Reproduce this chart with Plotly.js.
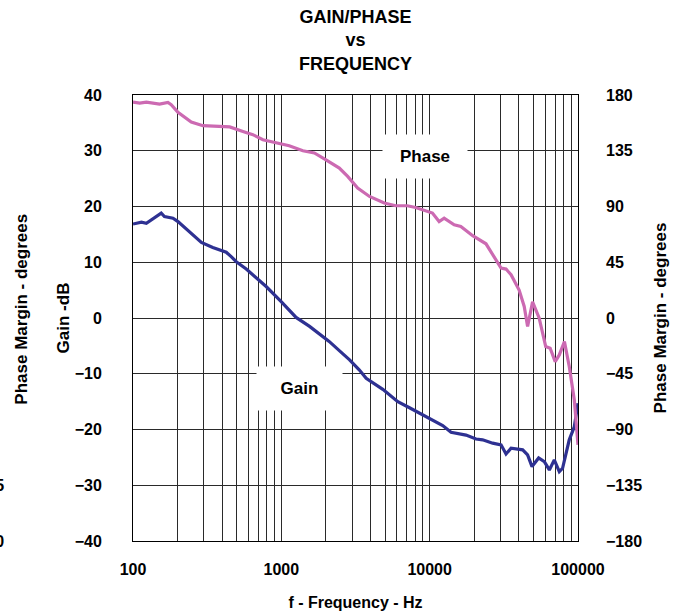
<!DOCTYPE html>
<html>
<head>
<meta charset="utf-8">
<script src="https://cdn.plot.ly/plotly-3.0.1.min.js"></script>
<style>html,body{margin:0;padding:0;background:#fff;}#chart{width:677px;height:615px;}</style>
</head>
<body>
<div id="chart"></div>
<script>
// Gain curve (Hz, dB)
const gainFreq = [100,114,123,136,155,163,186,201,234,289,345,425,459,497,580,678,790,998,1257,1550,2100,2590,2885,3350,3730,4830,6100,7310,9470,12240,13930,17580,20540,22750,26590,30290,32720,35370,42370,45730,48980,54290,59300,64100,69200,74800,78700,87300,94400,100000];
const gainDb = [16.85,17.2,17.0,17.75,18.8,18.2,17.9,17.3,15.65,13.55,12.65,11.8,11.0,10.1,8.8,7.3,5.65,2.95,0.1,-1.5,-4.2,-6.4,-7.5,-9.3,-10.8,-12.8,-15.0,-16.1,-17.7,-19.3,-20.5,-21.0,-21.7,-21.85,-22.45,-22.75,-24.4,-23.35,-23.65,-24.55,-26.65,-25.1,-25.75,-27.25,-25.45,-27.55,-26.95,-21.85,-19.5,-15.3];

// Phase curve (Hz, degrees)
const phaseFreq = [100,111,123,151,172,181,201,247,296,374,449,551,643,751,923,1130,1397,1670,2000,2460,2800,3270,3930,4940,5900,7070,8040,10440,11580,12520,14630,16220,19500,23970,30290,32720,35370,40100,43390,45730,49400,54700,60600,64900,70200,74800,81000,87300,94400,100000];
const phaseDeg = [174.3,173.5,174.3,172.7,174,172.2,166,158.2,155.2,154.6,154.2,150.6,148,143.9,141.2,139,135,133.2,127.7,121,114.3,104.9,98.1,92.8,90.6,90.6,89.2,84.7,77.9,80.6,75.2,73.9,66.4,59.9,40.3,39.5,34.9,22.6,9.3,-6.9,13,0,-23,-24.4,-35.2,-29.8,-19,-39.2,-66,-102.4];

// Axis ticks
const xGridVals = [100,200,300,400,500,600,700,800,900,1000,2000,3000,4000,5000,6000,7000,8000,9000,10000,20000,30000,40000,50000,60000,70000,80000,90000,100000];
const xGridText = ['100','','','','','','','','','1000','','','','','','','','','10000','','','','','','','','','100000'];
const gainTicks = [40,30,20,10,0,-10,-20,-30,-40];
const phaseTicks = [180,135,90,45,0,-45,-90,-135,-180];

const FONT = 'Liberation Sans, Arial, Helvetica, sans-serif';

const traces = [
  {x: gainFreq, y: gainDb, type: 'scatter', mode: 'lines', name: 'Gain', yaxis: 'y',
   line: {color: '#2E3192', width: 3.2}},
  {x: phaseFreq, y: phaseDeg, type: 'scatter', mode: 'lines', name: 'Phase', yaxis: 'y2',
   line: {color: '#CC6AB2', width: 3.2}}
];

const layout = {
  width: 677, height: 615,
  paper_bgcolor: '#fff', plot_bgcolor: '#fff',
  showlegend: false,
  margin: {l: 133, r: 99, t: 95, b: 74, pad: 0},
  font: {family: FONT, size: 16, color: '#000', weight: 'bold'},
  title: {text: 'GAIN/PHASE<br>vs<br>FREQUENCY', font: {family: FONT, size: 18, weight: 'bold', color: '#000'},
          xref: 'paper', x: 0.5, xanchor: 'center', yref: 'container', y: 0.9625, yanchor: 'top'},
  xaxis: {
    type: 'log', range: [2, 5], tickmode: 'array', tickvals: xGridVals, ticktext: xGridText,
    showgrid: true, gridcolor: '#2a2a2a', gridwidth: 1, ticks: '', zeroline: false,
    showline: true, linecolor: '#000', linewidth: 1, mirror: true,
    tickfont: {family: FONT, size: 16, weight: 'bold'}, ticklabelstandoff: 14,
    title: {text: 'f - Frequency - Hz', font: {family: FONT, size: 16, weight: 'bold'}, standoff: 19},
    automargin: false, fixedrange: true
  },
  yaxis: {
    range: [-40, 40], tickmode: 'array', tickvals: gainTicks, ticks: '',
    showgrid: true, gridcolor: '#2a2a2a', gridwidth: 1, zeroline: false,
    showline: true, linecolor: '#000', linewidth: 1, mirror: true,
    tickfont: {family: FONT, size: 16, weight: 'bold'}, ticklabelstandoff: 27,
    title: {text: 'Gain -dB', font: {family: FONT, size: 17, weight: 'bold'}, standoff: 0},
    automargin: false, fixedrange: true
  },
  yaxis2: {
    range: [-180, 180], tickmode: 'array', tickvals: phaseTicks, ticks: '',
    overlaying: 'y', side: 'right', showgrid: false, zeroline: false, showline: false,
    tickfont: {family: FONT, size: 16, weight: 'bold'}, ticklabelstandoff: 27,
    title: {text: 'Phase Margin - degrees', font: {family: FONT, size: 17, weight: 'bold'}, standoff: 12},
    automargin: false, fixedrange: true
  },
  annotations: [
    {text: 'Phase Margin - degrees', textangle: -90, xref: 'paper', yref: 'paper',
     x: -0.2504, y: 0.52, xanchor: 'center', yanchor: 'middle', showarrow: false,
     font: {family: FONT, size: 17, weight: 'bold', color: '#000'}},
    {text: 'Phase', xref: 'x', yref: 'y', x: Math.log10(9350), y: 29.0, showarrow: false,
     width: 82, height: 41, bgcolor: '#fff', font: {family: FONT, size: 17, weight: 'bold', color: '#000'}},
    {text: 'Gain', xref: 'x', yref: 'y', x: Math.log10(1327), y: -12.7, showarrow: false,
     width: 83, height: 41, bgcolor: '#fff', font: {family: FONT, size: 17, weight: 'bold', color: '#000'}},
    {text: '-135', xref: 'paper', yref: 'y2', x: -0.2864, y: -135, xanchor: 'right', showarrow: false,
     font: {family: FONT, size: 16, weight: 'bold', color: '#000'}},
    {text: '-180', xref: 'paper', yref: 'y2', x: -0.2864, y: -180, xanchor: 'right', showarrow: false,
     font: {family: FONT, size: 16, weight: 'bold', color: '#000'}}
  ]
};

Plotly.newPlot('chart', traces, layout, {displayModeBar: false, staticPlot: true});
</script>
</body>
</html>
